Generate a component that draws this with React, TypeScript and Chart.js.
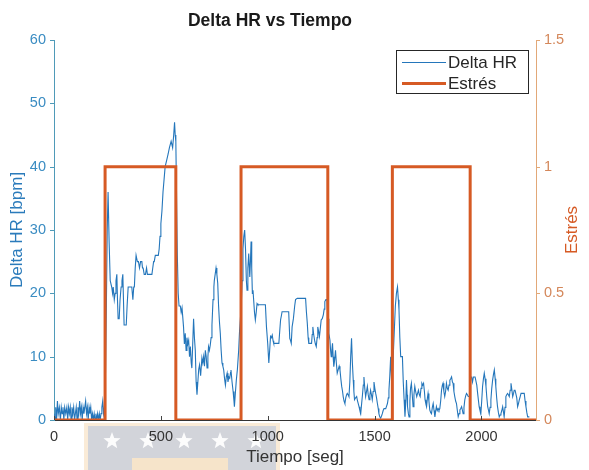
import { useEffect, useRef } from "react";
import { Chart, registerables } from "chart.js";

Chart.register(...registerables);

// Delta HR samples: time (s) and heart-rate change (bpm)
const timeS = [
  0, 5, 8, 12, 16, 20, 25, 30, 34, 38,
  42, 46, 50, 55, 60, 64, 68, 72, 76, 80,
  84, 88, 92, 96, 100, 104, 108, 112, 116, 120,
  124, 128, 132, 136, 140, 144, 148, 152, 156, 160,
  164, 168, 172, 176, 180, 184, 188, 192, 196, 200,
  204, 208, 212, 216, 220, 224, 228, 232, 236,
  240, 245, 249, 253, 258, 263, 270, 274, 277, 282,
  286, 290, 294, 297, 300, 305, 309, 314, 318, 322,
  325, 328, 333, 338, 342, 347, 352, 358, 364, 369,
  373, 376, 380, 384, 390, 395, 400, 405, 411, 414,
  417, 422, 428, 433, 437, 441, 446, 452, 458, 462,
  466, 469, 474, 478, 483, 488, 492, 496, 500, 505,
  510, 515, 520, 527, 534, 540, 548, 555, 560, 564,
  567, 570, 573, 577, 581, 585,
  591, 595, 599, 606, 610, 614, 618, 622, 626, 630,
  634, 638, 642, 645, 649, 653, 657, 661, 665, 669,
  673, 677, 681, 686, 692, 696, 700, 704, 708, 712,
  716, 720, 723, 727, 731, 735, 739, 744, 748, 750,
  754, 758, 762, 766, 770, 774, 778, 782, 786, 790,
  794, 798, 802, 806, 810, 814, 818, 822, 826, 828,
  833, 838, 842, 844, 848, 853, 858, 864, 868, 872,
  876, 880, 884, 888, 892, 896, 900, 903, 907, 911,
  914, 916, 919, 922, 925, 928, 931, 934, 938, 942,
  946, 950, 954, 958, 965, 972, 980, 989, 994, 1000,
  1005, 1009, 1013, 1017, 1021, 1025, 1028, 1036, 1044, 1052,
  1056, 1060, 1064, 1067, 1075, 1083, 1091, 1098, 1103, 1107,
  1110, 1114, 1120, 1126, 1130, 1138, 1150, 1163, 1177, 1181,
  1185, 1189, 1192, 1200, 1205, 1208, 1211, 1215, 1219, 1223,
  1227, 1231, 1234, 1238, 1242, 1246, 1250, 1255, 1260, 1264,
  1267, 1272, 1277,
  1282, 1286, 1291, 1294, 1297, 1300, 1303, 1306, 1309, 1313,
  1317, 1321, 1325, 1330, 1334, 1338, 1342, 1346, 1350, 1353,
  1357, 1361, 1365, 1369, 1372, 1376, 1380, 1384, 1388, 1392,
  1396, 1400, 1403, 1406, 1411, 1416, 1420, 1424, 1427, 1431,
  1435, 1439, 1443, 1447, 1450, 1454, 1458, 1462, 1466, 1470,
  1474, 1478, 1481, 1485, 1489, 1493, 1497, 1501, 1505, 1509,
  1513, 1517, 1520, 1524, 1528, 1532, 1536, 1540, 1544, 1548,
  1552, 1556, 1560, 1564, 1567, 1571, 1575, 1579,
  1583, 1587, 1592, 1597, 1602, 1607, 1611, 1614, 1618, 1622,
  1626, 1630, 1634, 1638, 1642, 1646, 1649, 1652, 1654, 1658,
  1661, 1665, 1668, 1672, 1676, 1680, 1684, 1688, 1692, 1697,
  1701, 1705, 1709, 1713, 1717, 1721, 1725, 1729, 1733, 1736,
  1740, 1743, 1747, 1750, 1754, 1758, 1762, 1766, 1770, 1774,
  1778, 1782, 1786, 1789, 1793, 1797, 1801, 1805, 1809, 1813,
  1817, 1820, 1824, 1828, 1832, 1836, 1840, 1844, 1848, 1852,
  1856, 1860, 1864, 1867, 1871, 1875, 1879, 1883, 1887, 1891,
  1895, 1899, 1903, 1907, 1911, 1914, 1918, 1922, 1926, 1930,
  1934, 1938, 1942, 1946,
  1950, 1954, 1958, 1962, 1966, 1970, 1974, 1978, 1982, 1986,
  1989, 1993, 1997, 2001, 2005, 2009, 2013, 2017, 2021, 2025,
  2029, 2033, 2036, 2040, 2044, 2048, 2052, 2056, 2060, 2064,
  2067, 2071, 2075, 2079, 2083, 2087, 2091, 2095, 2099, 2103,
  2106, 2110, 2114, 2118, 2122, 2126, 2130, 2134, 2138, 2142,
  2146, 2150, 2153, 2157, 2161, 2165, 2169, 2173, 2177, 2181,
  2185, 2189, 2193, 2197, 2200, 2204, 2208, 2212, 2216, 2220,
  2224,
];

const deltaHR = [
  1, 0, 2, 0, 3, 1, 2, 0, 2, 1,
  2, 0, 2, 1, 2, 0, 2, 1, 2, 0,
  2, 1, 2, 0, 1, 2, 0, 2, 1, 3,
  1, 2, 0, 2, 1, 2, 3, 1, 2, 0,
  2, 1, 2, 0, 1, 0, 1, 0, 1, 0,
  1, 0, 1, 0, 1, 2, 3, 1, 2,
  5, 18, 30, 36, 28, 22, 21, 20, 21, 19,
  20, 22, 23, 19, 16, 16, 19, 21, 22, 23,
  19, 15, 15, 15, 18, 21, 21, 21, 21, 19,
  21, 21, 24, 26, 25, 25, 24, 25, 25, 24,
  24, 23, 23, 24, 23, 23, 23, 23, 23, 24,
  25, 25, 26, 26, 26, 26, 27, 29, 31, 33,
  36, 38, 40, 41, 42, 43, 44, 43, 45, 47,
  45, 44, 36, 26, 20, 18,
  18, 17, 17.7, 14.7, 12, 13.7, 11, 13, 12, 12.6,
  10, 11.6, 9, 8.2, 12, 16, 13, 11, 6, 4,
  6, 8, 8.7, 7, 9.8, 9, 10, 8.5, 11, 10,
  8.2, 10, 11.6, 11, 11.8, 13, 15, 19, 21, 22,
  23, 24, 23, 21.6, 18, 15.5, 13.7, 11, 9, 8.5,
  7.9, 6.5, 5.5, 6.8, 7.4, 6, 6.8, 6.6, 7.5, 7.9,
  6, 4.5, 3, 2.1, 4, 6.3, 8, 11, 14, 16,
  18, 22, 27, 29, 30, 27, 22, 20.5, 24, 26.3,
  24, 22.6, 25, 28.2, 24, 20, 20.5, 19, 17, 15.8,
  17, 18.4, 18.2, 18.2, 18.2, 18.2, 18.2, 18.2, 14.7, 12,
  9, 11, 13.2, 13, 13.4, 12.5, 12.1, 12.1, 12.1, 12.1,
  14, 15.8, 16.5, 17.1, 17.1, 17.1, 17.1, 17.1, 12.9, 12.5,
  12.1, 14.7, 16, 18, 19, 19.2, 19.2, 19.2, 19.2, 17,
  15.3, 13, 12.1, 12.1, 12.1, 13.5, 14.7, 13.5, 12.6, 12,
  11.6, 13, 14.7, 14, 13.2, 14.5, 15.8, 16, 16.6, 17.5,
  18.7, 19, 19,
  16, 13.7, 12.6, 11, 10, 11, 12.1, 10, 8.4, 9.5,
  11, 9, 7.4, 8, 8.5, 7.9, 6.5, 5.3, 4.5, 3.7,
  3, 2.6, 3.5, 4, 4.2, 4, 3.7, 6, 10, 12.9,
  9, 6.3, 4.5, 3.2, 3.5, 3.7, 3, 2.5, 2.1, 1.5,
  1, 2.5, 3.9, 5.5, 6.8, 5, 3.7, 4.5, 5.3, 4,
  3.2, 4, 4.7, 4, 3.2, 4.5, 6, 5, 4.2, 3.5,
  2.6, 1.8, 1, 0.5, 0.3, 0.6, 1, 1.5, 1.8, 1.8,
  1.8, 2.2, 2.6, 3.5, 4.7, 7, 10, 6.5,
  7, 10, 14, 18, 20, 21, 19, 17.4, 13, 10,
  10, 10, 6, 3.2, 0.5, 3, 6.3, 4, 2.1, 1,
  0.5, 3, 5, 5.8, 4, 2.1, 4, 5.3, 4.5, 3.7,
  4.2, 4.7, 4, 3.7, 5, 5.8, 5.5, 5.8, 4.5, 3.2,
  2.5, 2.1, 3.5, 4.2, 3, 1.6, 1.2, 1, 2, 2.6,
  1.5, 0.5, 1.5, 2.1, 1.5, 1.8, 1.5, 1.8, 3, 4.7,
  5.5, 5.8, 4.5, 3.7, 4.5, 5.8, 5, 4.7, 5.5, 6.3,
  6.5, 6.8, 6, 5.8, 4.5, 3.7, 3, 2.6, 1.5, 0.5,
  1, 1.6, 1.8, 2.1, 1.5, 1, 2, 3.2, 3.8, 4.2,
  4, 3.7, 3.7, 5,
  6.8, 6.8, 6, 6.8, 6.8, 6.8, 6.8, 5.5, 4.2, 3,
  2.1, 1.5, 1, 3, 5.3, 6.5, 7.4, 6.5, 5.3, 3.5,
  2.1, 1.5, 1, 2, 3.2, 5, 6.3, 7.2, 7.9, 6.5,
  5.3, 3.5, 2.1, 1.2, 0.5, 0.8, 1, 1.5, 2.1, 1.2,
  0.5, 2, 3.7, 4, 4.2, 4, 3.7, 4.7, 5.8, 4.8,
  3.7, 4.2, 4.7, 4.7, 4.7, 3.5, 2.1, 2.6, 3.2, 3.7,
  4.2, 4.2, 4.2, 4.2, 4.2, 3, 2.1, 1.2, 0.5, 0.5,
  0.5,
];

// Stress condition (0 = rest, 1 = stress) as a step signal
const stressTime = [0, 239, 239, 570, 570, 875, 875, 1281, 1281, 1583, 1583, 1947, 1947, 2255];
const stressLevel = [0, 0, 1, 1, 0, 0, 1, 1, 0, 0, 1, 1, 0, 0];

const xRange = [0, 2255];
const xTicks = [0, 500, 1000, 1500, 2000];
const hrRange = [0, 60];
const hrTicks = [0, 10, 20, 30, 40, 50, 60];
const stressRange = [0, 1.5];
const stressTicks = [0, 0.5, 1, 1.5];

const FONT = "'Liberation Sans', Arial, Helvetica, sans-serif";
const TICK_SIZE = 14.5;
const LABEL_SIZE = 17;
const BLUE = "#2476bb";
const ORANGE = "#d65a24";
const LEFT_AXIS = "#4f9ab8";
const LEFT_TEXT = "#3a8cc2";
const RIGHT_AXIS = "#e2a878";
const RIGHT_TEXT = "#d4875a";

function drawStar(ctx: CanvasRenderingContext2D, cx: number, cy: number, r: number) {
  ctx.beginPath();
  for (let i = 0; i < 10; i++) {
    const rad = i % 2 === 0 ? r : r * 0.42;
    const a = -Math.PI / 2 + (i * Math.PI) / 5;
    const px = cx + rad * Math.cos(a);
    const py = cy + rad * Math.sin(a);
    if (i === 0) ctx.moveTo(px, py);
    else ctx.lineTo(px, py);
  }
  ctx.closePath();
  ctx.fill();
}

const decorations = {
  id: "decorations",
  beforeDraw(chart: any) {
    const ctx = chart.ctx as CanvasRenderingContext2D;
    ctx.save();
    ctx.fillStyle = "#ffffff";
    ctx.fillRect(0, 0, chart.width, chart.height);
    // faint emblem under the time axis
    ctx.fillStyle = "rgba(246, 216, 176, 0.5)";
    ctx.fillRect(84, 423, 196, 47);
    ctx.fillStyle = "rgba(192, 203, 220, 0.7)";
    ctx.fillRect(88, 426, 188, 44);
    ctx.fillStyle = "rgba(250, 230, 200, 0.9)";
    ctx.fillRect(132, 458, 96, 12);
    ctx.fillStyle = "rgba(255, 255, 255, 0.92)";
    [112, 148, 184, 220, 256].forEach((sx) => drawStar(ctx, sx, 441, 9));
    ctx.restore();
  },
  afterDraw(chart: any) {
    const ctx = chart.ctx as CanvasRenderingContext2D;
    const { x, y, y1 } = chart.scales;
    const area = chart.chartArea;
    ctx.save();

    // tick marks
    ctx.lineWidth = 1;
    ctx.strokeStyle = LEFT_AXIS;
    y.ticks.forEach((t: any) => {
      const py = Math.round(y.getPixelForValue(t.value)) + 0.5;
      ctx.beginPath();
      ctx.moveTo(area.left - 4, py);
      ctx.lineTo(area.left, py);
      ctx.stroke();
    });
    ctx.strokeStyle = RIGHT_AXIS;
    y1.ticks.forEach((t: any) => {
      const py = Math.round(y1.getPixelForValue(t.value)) + 0.5;
      ctx.beginPath();
      ctx.moveTo(area.right, py);
      ctx.lineTo(area.right + 4, py);
      ctx.stroke();
    });
    ctx.strokeStyle = "#444444";
    x.ticks.forEach((t: any) => {
      const px = Math.round(x.getPixelForValue(t.value)) + 0.5;
      ctx.beginPath();
      ctx.moveTo(px, area.bottom);
      ctx.lineTo(px, area.bottom - 4);
      ctx.stroke();
    });

    // title
    ctx.fillStyle = "#1a1a1a";
    ctx.font = `bold 17.5px ${FONT}`;
    ctx.textAlign = "center";
    ctx.textBaseline = "middle";
    ctx.fillText("Delta HR vs Tiempo", 270, 21);

    // right axis title, reading bottom to top
    ctx.save();
    ctx.translate(572, (area.top + area.bottom) / 2);
    ctx.rotate(-Math.PI / 2);
    ctx.fillStyle = ORANGE;
    ctx.font = `${LABEL_SIZE}px ${FONT}`;
    ctx.fillText("Estrés", 0, 0);
    ctx.restore();

    // legend box
    const ds = chart.data.datasets;
    const bx = 396, by = 50, bw = 132, bh = 43;
    ctx.fillStyle = "#ffffff";
    ctx.fillRect(bx, by, bw, bh);
    ctx.strokeStyle = "#262626";
    ctx.lineWidth = 1;
    ctx.strokeRect(bx + 0.5, by + 0.5, bw, bh);
    const rows = [62.5, 83.5];
    ds.forEach((d: any, i: number) => {
      ctx.strokeStyle = d.borderColor;
      ctx.lineWidth = d.borderWidth;
      ctx.beginPath();
      ctx.moveTo(402, rows[i]);
      ctx.lineTo(446, rows[i]);
      ctx.stroke();
      ctx.fillStyle = "#262626";
      ctx.font = `${LABEL_SIZE}px ${FONT}`;
      ctx.textAlign = "left";
      ctx.textBaseline = "middle";
      ctx.fillText(d.label, 448, rows[i] + 0.5);
    });
    ctx.restore();
  },
};

const fixedTicks = (values: number[]) => (s: any) => {
  s.ticks = values.map((v) => ({ value: v }));
};

export default function App() {
  const canvasRef = useRef<HTMLCanvasElement | null>(null);

  useEffect(() => {
    if (!canvasRef.current) return;
    const hrPoints = timeS.map((t, i) => ({ x: t, y: deltaHR[i] }));
    const stressPoints = stressTime.map((t, i) => ({ x: t, y: stressLevel[i] }));

    const chart = new Chart(canvasRef.current, {
      type: "line",
      data: {
        datasets: [
          {
            label: "Delta HR",
            data: hrPoints,
            yAxisID: "y",
            borderColor: BLUE,
            borderWidth: 1.1,
            pointRadius: 0,
            tension: 0,
            order: 1,
          },
          {
            label: "Estrés",
            data: stressPoints,
            yAxisID: "y1",
            borderColor: ORANGE,
            borderWidth: 3,
            pointRadius: 0,
            tension: 0,
            order: 0,
          },
        ],
      },
      options: {
        responsive: false,
        animation: false,
        devicePixelRatio: 1,
        layout: { padding: { top: 40, left: 0, right: 0, bottom: 0 } },
        plugins: {
          legend: { display: false },
          title: { display: false },
          tooltip: { enabled: false },
        },
        scales: {
          x: {
            type: "linear",
            min: xRange[0],
            max: xRange[1],
            afterBuildTicks: fixedTicks(xTicks),
            grid: { display: false, drawTicks: false },
            border: { display: true, color: "#333333", width: 1 },
            ticks: {
              maxRotation: 0,
              autoSkip: false,
              padding: 8,
              color: "#333333",
              font: { family: FONT, size: TICK_SIZE },
              callback: (v: any) => String(v),
            },
            title: {
              display: true,
              text: "Tiempo [seg]",
              color: "#333333",
              font: { family: FONT, size: LABEL_SIZE },
              padding: { top: 0, bottom: 2 },
            },
            afterFit: (s: any) => {
              s.height = 50;
            },
          },
          y: {
            type: "linear",
            position: "left",
            min: hrRange[0],
            max: hrRange[1],
            afterBuildTicks: fixedTicks(hrTicks),
            grid: { display: false, drawTicks: false },
            border: { display: true, color: LEFT_AXIS, width: 1 },
            ticks: {
              padding: 8,
              color: LEFT_TEXT,
              font: { family: FONT, size: TICK_SIZE },
              callback: (v: any) => String(v),
            },
            title: {
              display: true,
              text: "Delta HR [bpm]",
              color: "#2b7bbb",
              font: { family: FONT, size: LABEL_SIZE },
              padding: { top: 7, bottom: 0 },
            },
            afterFit: (s: any) => {
              s.width = 54;
            },
          },
          y1: {
            type: "linear",
            position: "right",
            min: stressRange[0],
            max: stressRange[1],
            afterBuildTicks: fixedTicks(stressTicks),
            grid: { display: false, drawTicks: false },
            border: { display: true, color: RIGHT_AXIS, width: 1 },
            ticks: {
              padding: 8,
              color: RIGHT_TEXT,
              font: { family: FONT, size: TICK_SIZE },
              callback: (v: any) => String(v),
            },
            afterFit: (s: any) => {
              s.width = 53;
            },
          },
        },
      },
      plugins: [decorations],
    });

    return () => chart.destroy();
  }, []);

  return (
    <div style={{ position: "fixed", left: 0, top: 0, width: 589, height: 470, background: "#fff" }}>
      <canvas ref={canvasRef} width={589} height={470} style={{ display: "block" }} />
    </div>
  );
}
